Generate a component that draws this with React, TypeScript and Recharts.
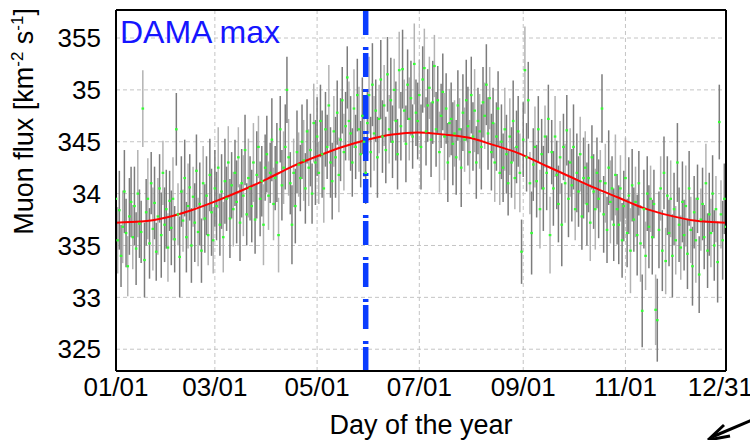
import React from "react";
import {
  ComposedChart,
  XAxis,
  YAxis,
  CartesianGrid,
  Scatter,
  ErrorBar,
  Line,
  ReferenceLine,
} from "recharts";

const FONT = "'Liberation Sans', Arial, Helvetica, sans-serif";

// x axis: day of the year
const xTickDays = [1, 60, 121, 182, 244, 305, 365];
const xTickLabels = ["01/01", "03/01", "05/01", "07/01", "09/01", "11/01", "12/31"];
const xMinorDays = [21, 40, 80, 101, 141, 162, 202, 223, 264, 284, 325, 345];

// y axis labels as printed on the original plot
const yTickValues = [32.5, 33, 33.5, 34, 34.5, 35, 35.5];
const yTickLabels = ["325", "33", "335", "34", "345", "35", "355"];
const yMinorTicks = Array.from({ length: 35 }, (_, i) => +(32.3 + i * 0.1).toFixed(1));

// daily muon flux, one value per day (Jan 1 .. Dec 31)
const fluxValues = [
  33.95, 33.55, 33.84, 33.40, 33.68, 34.02, 33.62, 33.30, 33.78, 33.92,
  33.58, 33.88, 33.47, 34.00, 33.71, 33.63, 34.82, 33.36, 33.82, 33.95,
  33.52, 34.10, 33.66, 33.91, 33.44, 33.78, 34.05, 33.60, 34.20, 33.70,
  33.85, 33.48, 33.93, 33.67, 33.95, 33.56, 34.62, 33.80, 33.39, 34.02,
  33.74, 34.15, 33.58, 33.88, 34.06, 33.50, 33.97, 33.72, 34.22, 33.63,
  33.90, 33.45, 34.10, 33.76, 33.98, 33.60, 34.18, 33.82, 33.55, 34.05,
  33.88, 34.25, 33.70, 34.02, 33.58, 34.12, 33.95, 34.30, 33.76, 34.08,
  33.85, 34.20, 33.92, 34.35, 33.72, 34.10, 33.98, 34.42, 33.80, 34.15,
  34.05, 33.88, 34.30, 33.75, 34.18, 34.45, 33.95, 34.12, 33.70, 34.25,
  34.38, 33.98, 34.20, 34.52, 33.90, 34.15, 34.30, 33.60, 34.62, 34.08,
  34.25, 34.45, 35.00, 34.35, 34.10, 33.70, 34.20, 33.88, 34.40, 34.28,
  34.15, 34.50, 34.32, 34.05, 34.60, 34.25, 34.42, 34.00, 34.68, 34.30,
  34.55, 34.20, 34.70, 34.38, 34.05, 34.62, 34.45, 34.85, 34.30, 34.12,
  34.60, 34.35, 34.78, 34.18, 34.52, 34.90, 34.40, 34.65, 35.12, 34.70,
  34.58, 34.30, 34.82, 34.45, 34.95, 34.62, 34.38, 34.75, 34.50, 34.20,
  34.68, 34.95, 34.40, 35.05, 34.58, 34.80, 34.35, 34.72, 35.10, 34.55,
  34.85, 34.42, 35.15, 34.62, 34.90, 34.50, 35.00, 34.70, 34.38, 35.19,
  34.65, 35.20, 34.80, 34.48, 35.05, 34.72, 34.92, 34.55, 35.25, 34.78,
  34.70, 34.95, 34.45, 35.10, 35.21, 34.60, 34.85, 35.02, 34.52, 34.88,
  35.23, 34.62, 34.90, 34.40, 34.75, 34.98, 34.55, 34.82, 34.30, 34.68,
  34.72, 34.48, 34.58, 34.35, 34.85, 34.62, 34.25, 34.78, 34.52, 34.90,
  34.65, 34.40, 34.95, 34.55, 34.80, 34.30, 34.70, 34.60, 34.45, 34.88,
  34.75, 35.05, 34.58, 34.92, 34.40, 34.68, 34.30, 34.55, 34.82, 34.20,
  34.50, 34.25, 34.62, 34.38, 34.10, 34.55, 34.30, 34.70, 34.15, 34.45,
  34.60, 34.20, 33.44, 34.52, 35.19, 34.35, 34.90, 34.10, 33.62, 34.28,
  34.45, 34.12, 34.62, 33.85, 34.38, 34.05, 34.55, 34.20, 34.72, 33.60,
  34.40, 34.05, 34.55, 34.18, 33.90, 34.35, 33.70, 34.45, 34.10, 34.61,
  33.95, 34.30, 34.08, 34.45, 33.85, 34.20, 34.02, 34.38, 33.78, 34.15,
  34.25, 33.90, 34.15, 33.72, 34.35, 34.02, 33.85, 34.20, 33.95, 34.12,
  34.82, 33.80, 34.10, 33.65, 34.25, 33.92, 34.05, 33.70, 34.18, 33.85,
  33.70, 34.05, 33.55, 33.88, 34.15, 33.62, 33.98, 33.45, 34.08, 33.75,
  33.92, 33.60, 34.10, 33.52, 32.87, 33.85, 33.40, 34.00, 33.68, 33.95,
  33.58, 33.90, 32.88, 32.78, 33.65, 34.05, 33.45, 34.20, 33.35, 33.98,
  33.62, 33.95, 33.40, 33.85, 33.55, 34.30, 33.70, 33.48, 33.92, 33.60,
  33.88, 33.42, 34.05, 33.65, 33.30, 33.82, 33.55, 33.95, 33.22, 33.75,
  33.90, 33.58, 34.10, 33.45, 33.80, 33.62, 34.00, 33.50, 33.85, 33.34,
  34.69, 33.80, 33.55, 33.95, 33.68,
];

// half length of each error bar, in 0.01 units
const fluxErrors = [
  36, 32, 38, 30, 35, 40, 33, 29, 37, 34,
  31, 38, 35, 42, 33, 30, 37, 36, 32, 39,
  34, 30, 40, 35, 28, 37, 33, 41, 31, 36,
  38, 33, 29, 36, 40, 32, 35, 30, 39, 34,
  30, 37, 34, 41, 32, 36, 29, 38, 35, 33,
  40, 31, 36, 33, 38, 29, 35, 42, 32, 37,
  33, 39, 30, 36, 34, 41, 31, 35, 38, 32,
  36, 32, 40, 29, 37, 33, 39, 34, 30, 38,
  31, 35, 38, 33, 42, 30, 36, 34, 39, 32,
  37, 33, 29, 40, 35, 31, 38, 36, 32, 34,
  35, 41, 32, 37, 30, 38, 33, 36, 40, 31,
  32, 36, 39, 34, 31, 37, 35, 29, 38, 41,
  38, 30, 35, 42, 33, 36, 31, 39, 34, 37,
  34, 39, 31, 36, 40, 32, 37, 33, 30, 38,
  36, 33, 38, 31, 35, 41, 32, 37, 34, 30,
  31, 37, 34, 40, 36, 30, 39, 33, 38, 35,
  39, 32, 36, 33, 41, 35, 30, 38, 34, 37,
  33, 38, 30, 37, 34, 40, 36, 31, 39, 32,
  37, 34, 41, 32, 38, 33, 35, 30, 36, 40,
  30, 36, 33, 39, 31, 37, 42, 34, 38, 33,
  35, 40, 32, 36, 34, 30, 38, 37, 31, 39,
  38, 31, 37, 33, 40, 35, 32, 36, 41, 34,
  32, 39, 35, 30, 37, 34, 38, 33, 36, 31,
  36, 33, 40, 38, 31, 37, 34, 39, 30, 35,
  34, 38, 31, 36, 42, 33, 37, 30, 40, 35,
  39, 35, 32, 38, 34, 41, 30, 36, 33, 37,
  31, 36, 39, 33, 37, 35, 40, 32, 38, 34,
  37, 33, 35, 41, 30, 38, 34, 36, 32, 39,
  35, 40, 33, 37, 31, 36, 39, 34, 38, 30,
  33, 37, 38, 32, 36, 40, 31, 35, 39, 34,
  38, 32, 36, 34, 39, 33, 37, 41, 35, 31,
  34, 39, 31, 37, 35, 38, 33, 36, 40, 32,
  36, 33, 34, 40, 37, 31, 39, 35, 32, 38,
  32, 37, 40, 35, 33, 38, 36, 31, 39, 34,
  39, 34, 36, 32, 38, 35, 41, 33, 37, 30,
  35, 31, 38, 36, 40, 33, 37, 34, 32, 39,
  36, 33, 38, 34, 37,
];

// seasonal fit (red curve), read every 15 days
const fitDays = [1, 16, 31, 46, 61, 76, 91, 106, 121, 136, 151, 166, 181, 196, 211, 226, 241, 256, 271, 286, 301, 316, 331, 346, 365];
const fitValues = [33.72, 33.73, 33.77, 33.84, 33.93, 34.03, 34.14, 34.26, 34.36, 34.45, 34.52, 34.57, 34.59, 34.57, 34.54, 34.47, 34.39, 34.28, 34.17, 34.06, 33.96, 33.86, 33.79, 33.74, 33.72];

const damaMaxDay = 150;

const points = fluxValues.map((v, i) => ({ day: i + 1, flux: v, err: fluxErrors[i] / 100 }));
const darkPoints = points.filter((_, i) => i % 3 !== 1);
const lightPoints = points.filter((_, i) => i % 3 === 1);
const fitData = fitDays.map((d, i) => ({ day: d, fit: fitValues[i] }));

const noShape = () => <g />;
const greenDot = (p: any) => (
  <rect x={p.cx - 1.3} y={p.cy - 1.1} width={2.6} height={2.2} fill="#33ff33" />
);

export default function App() {
  return (
    <div style={{ position: "fixed", left: 0, top: 0, width: 750, height: 440, background: "#fff", fontFamily: FONT }}>
      <ComposedChart width={750} height={440} margin={{ top: 10, right: 24, bottom: 0, left: 0 }}>
        <CartesianGrid xAxisId="main" yAxisId="main" stroke="#c4c4c4" strokeDasharray="4 3" />
        <XAxis
          xAxisId="main"
          dataKey="day"
          type="number"
          domain={[1, 365]}
          allowDataOverflow
          ticks={xTickDays}
          tickFormatter={(v) => xTickLabels[xTickDays.indexOf(v)] ?? ""}
          tick={{ fontSize: 26, fill: "#000", fontFamily: FONT }}
          tickLine={false}
          tickSize={0}
          tickMargin={7}
          axisLine={{ stroke: "#000", strokeWidth: 2 }}
          height={69}
          label={{ value: "Day of the year", position: "insideBottom", offset: 6, fontSize: 27, fill: "#000", fontFamily: FONT }}
        />
        <XAxis xAxisId="bMaj" dataKey="day" type="number" domain={[1, 365]} allowDataOverflow ticks={xTickDays} mirror tick={false} tickSize={10} axisLine={false} tickLine={{ stroke: "#000", strokeWidth: 1.5 }} />
        <XAxis xAxisId="bMin" dataKey="day" type="number" domain={[1, 365]} allowDataOverflow ticks={xMinorDays} mirror tick={false} tickSize={5} axisLine={false} tickLine={{ stroke: "#000", strokeWidth: 1.5 }} />
        <XAxis xAxisId="tMaj" dataKey="day" type="number" orientation="top" domain={[1, 365]} allowDataOverflow ticks={xTickDays} mirror tick={false} tickSize={10} axisLine={{ stroke: "#000", strokeWidth: 2 }} tickLine={{ stroke: "#000", strokeWidth: 1.5 }} />
        <XAxis xAxisId="tMin" dataKey="day" type="number" orientation="top" domain={[1, 365]} allowDataOverflow ticks={xMinorDays} mirror tick={false} tickSize={5} axisLine={false} tickLine={{ stroke: "#000", strokeWidth: 1.5 }} />
        <YAxis
          yAxisId="main"
          type="number"
          domain={[32.29, 35.77]}
          allowDataOverflow
          ticks={yTickValues}
          tickFormatter={(v) => yTickLabels[yTickValues.indexOf(v)] ?? ""}
          tick={{ fontSize: 26, fill: "#000", fontFamily: FONT }}
          tickLine={false}
          tickSize={0}
          tickMargin={15}
          axisLine={{ stroke: "#000", strokeWidth: 2 }}
          width={116}
        />
        <YAxis yAxisId="lMaj" type="number" domain={[32.29, 35.77]} allowDataOverflow ticks={yTickValues} mirror tick={false} tickSize={16} axisLine={false} tickLine={{ stroke: "#000", strokeWidth: 1.5 }} />
        <YAxis yAxisId="lMin" type="number" domain={[32.29, 35.77]} allowDataOverflow ticks={yMinorTicks} mirror tick={false} tickSize={8} axisLine={false} tickLine={{ stroke: "#000", strokeWidth: 1.5 }} />
        <YAxis yAxisId="right" type="number" orientation="right" domain={[32.29, 35.77]} allowDataOverflow mirror tick={false} tickLine={false} axisLine={{ stroke: "#000", strokeWidth: 2 }} />

        <Scatter xAxisId="main" yAxisId="main" data={lightPoints} dataKey="flux" shape={noShape} isAnimationActive={false}>
          <ErrorBar dataKey="err" direction="y" width={0} stroke="#b3b3b3" strokeWidth={1.5} isAnimationActive={false} />
        </Scatter>
        <Scatter xAxisId="main" yAxisId="main" data={darkPoints} dataKey="flux" shape={noShape} isAnimationActive={false}>
          <ErrorBar dataKey="err" direction="y" width={0} stroke="#7c7c7c" strokeWidth={1.5} isAnimationActive={false} />
        </Scatter>
        <Scatter xAxisId="main" yAxisId="main" data={points} dataKey="flux" shape={greenDot} isAnimationActive={false} />
        <Line xAxisId="main" yAxisId="main" data={fitData} dataKey="fit" type="monotone" stroke="#ff0000" strokeWidth={2} dot={false} isAnimationActive={false} />
        <ReferenceLine xAxisId="main" yAxisId="main" x={damaMaxDay} stroke="#0a3cff" strokeWidth={5.5} strokeDasharray="24 3 3 12" />
      </ComposedChart>

      <svg width={750} height={440} style={{ position: "absolute", left: 0, top: 0, pointerEvents: "none" }}>
        <text x={120} y={43} fontSize={32} fill="#1515ff" fontFamily={FONT}>DAMA max</text>
        <text transform="rotate(-90)" x={-8} y={33} textAnchor="end" fontSize={27} fill="#000" fontFamily={FONT}>
          Muon flux [km<tspan dy={-10} fontSize={17}>-2</tspan>
          <tspan dy={10}> s</tspan>
          <tspan dy={-10} fontSize={17}>-1</tspan>
          <tspan dy={10}>]</tspan>
        </text>
        <line x1={752} y1={420} x2={712} y2={437} stroke="#000" strokeWidth={3} />
        <line x1={708} y1={440} x2={724} y2={425} stroke="#000" strokeWidth={3} />
        <line x1={708} y1={440} x2={730} y2={436} stroke="#000" strokeWidth={3} />
      </svg>
    </div>
  );
}
